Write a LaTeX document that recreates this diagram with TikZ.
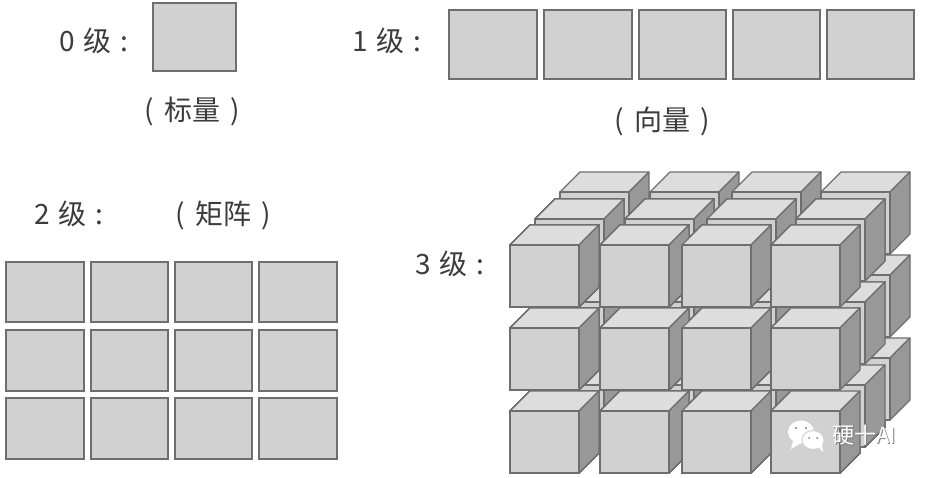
\documentclass[tikz,border=0pt]{standalone}
\usepackage{fontspec}
\setmainfont{Noto Sans CJK SC}
\definecolor{facec}{HTML}{D1D1D1}
\definecolor{topc}{HTML}{DDDDDD}
\definecolor{sidec}{HTML}{989898}
\definecolor{edgec}{HTML}{6E6E6E}
\definecolor{softc}{HTML}{A6A6A6}
\definecolor{inkc}{HTML}{3C3C3C}
\tikzset{
  cell/.style={fill=facec,draw=softc,line width=2.8pt,postaction={draw=edgec,line width=1.1pt}},
  cubeline/.style={draw=edgec,line width=1.1pt,line join=round},
  lab/.style={text=inkc,font=\fontsize{28}{30}\selectfont,inner sep=0pt,anchor=center},
  wm/.style={font=\fontsize{22}{24}\selectfont,inner sep=0pt},
}
\newcommand{\gp}{\hspace{.3em}}
\newcommand{\gq}{\hspace{.36em}}
\newcommand{\onecube}[2]{% left x, top y of front face
  \path[cubeline,fill=topc] (#1,#2) -- ++(20,-20) -- ++(69,0) -- ++(-20,20) -- cycle;
  \path[cubeline,fill=sidec] (#1+69,#2) -- ++(20,-20) -- ++(0,62) -- ++(-20,20) -- cycle;
  \path[cubeline,fill=facec] (#1,#2) rectangle ++(69,62);
}
\begin{document}
\begin{tikzpicture}[x=1pt,y=-1pt]
\useasboundingbox[fill=white] (0,0) rectangle (927,477);
% labels
\node[lab] (l0) at (94,41) {0\gp 级\gp :};
\node[lab] (t0) at (192,111) {(\gq 标量\gq )};
\node[lab] (l1) at (387,41) {1\gp 级\gp :};
\node[lab] (t1) at (662,121) {(\gq 向量\gq )};
\node[lab] (l2) at (69,214) {2\gp 级\gp :};
\node[lab] (t2) at (223,215) {(\gq 矩阵\gq )};
\node[lab] (l3) at (450,264) {3\gp 级\gp :};
% rank 0
\path[cell] (153,3) rectangle (236,71);
% rank 1
\foreach \a/\b in {449/537,544/632,639/726,733/820,827/914}
  \path[cell] (\a,10) rectangle (\b,79);
% rank 2
\foreach \ya/\yb in {262/322,330/391,398/459}
  \foreach \a/\b in {6/84,91/168,175/252,259/337}
    \path[cell] (\a,\ya) rectangle (\b,\yb);
% rank 3: back to front, left to right, top to bottom
\foreach \a in {560,650,732,821}
  \foreach \b in {192,275,358}
    \onecube{\a}{\b}
\foreach \a in {535,625,707,796}
  \foreach \b in {219,302,385}
    \onecube{\a}{\b}
\foreach \a in {510,600,682,771}
  \foreach \b in {245,328,411}
    \onecube{\a}{\b}
% watermark
\path[fill=white] (801,432) ellipse (13 and 11.5);
\path[fill=white] (793,441) -- (791,449) -- (801,443) -- cycle;
\path[draw=facec,line width=1pt,fill=white] (813,440) ellipse (11 and 9.5);
\path[fill=white] (818,447) -- (823,452) -- (822,444) -- cycle;
\path[fill=gray] (796,428) circle (1.2) (806,428) circle (1.2) (809,438) circle (1) (817,438) circle (1);
\node[wm,text=gray] (ws) at (865,436) {硬十AI};
\node[wm,text=white] (w) at (864,435) {硬十AI};
\end{tikzpicture}
\end{document}
